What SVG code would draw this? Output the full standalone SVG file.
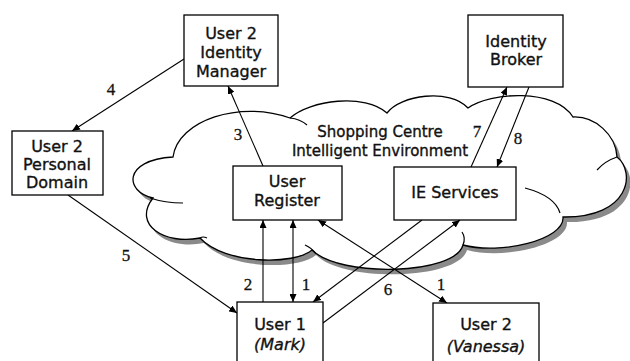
<svg xmlns="http://www.w3.org/2000/svg" width="630" height="361" viewBox="0 0 630 361">
<defs>
<style>
.box{fill:#fff;stroke:#000;stroke-width:1.3}
.t{font-family:"DejaVu Sans",Verdana,sans-serif;font-size:16px;fill:#111;stroke:#111;stroke-width:0.35;text-anchor:middle}
.ct{font-family:"DejaVu Sans",Verdana,sans-serif;font-size:15px;fill:#111;stroke:#111;stroke-width:0.35;text-anchor:middle}
.n{font-family:"Liberation Serif","Times New Roman",serif;font-size:17px;fill:#111;stroke:#111;stroke-width:0.3;text-anchor:middle}
.c{fill:none;stroke:#000;stroke-width:1.1}
.curl{fill:none;stroke:#000;stroke-width:1.2}
</style>
<marker id="ah" viewBox="0 0 8 7" refX="8" refY="3.5" markerWidth="8" markerHeight="7" markerUnits="userSpaceOnUse" orient="auto-start-reverse">
<path d="M0,0 L8,3.5 L0,7 z" fill="#000"/>
</marker>
<path id="cloudPath" d="M173,157 C178,120 240,100 290,118 C310,100 365,93 387,113 C400,95 450,88 468,108 C490,92 555,88 573,117 C595,116 616,135 617,157 C636,172 630,218 563,217 C565,240 500,255 463,245 C455,275 340,278 312,250 C295,265 225,265 200,238 C165,245 132,225 153,198 C125,192 122,160 173,157 Z"/>
</defs>
<rect width="630" height="361" fill="#fff"/>
<g id="cloud">
<use href="#cloudPath" fill="#8a8a8a" transform="translate(4,5)"/>
<use href="#cloudPath" fill="#fff" stroke="#000" stroke-width="1.3"/>
<path class="curl" d="M290,118 Q300,119 307,125"/>
<path class="curl" d="M617,157 Q605,161 597,170"/>
<path class="curl" d="M525,188 Q555,196 560,213"/>
<path class="curl" d="M463,245 Q466,238 462,232"/>
<path class="curl" d="M305,245 Q312,248 316,254"/>
<path class="curl" d="M150,198 Q165,203 183,203"/>
<path class="curl" d="M200,238 Q203,236 207,238"/>
<text class="ct" x="380" y="137">Shopping Centre</text>
<text class="ct" x="380" y="156">Intelligent Environment</text>
</g>
<g id="connectors">
<line class="c" x1="184" y1="59" x2="72" y2="131" marker-end="url(#ah)"/>
<line class="c" x1="263" y1="166" x2="228" y2="86" marker-end="url(#ah)"/>
<line class="c" x1="471" y1="167" x2="507" y2="87" marker-end="url(#ah)"/>
<line class="c" x1="529" y1="87" x2="497" y2="167" marker-end="url(#ah)"/>
<line class="c" x1="68" y1="195" x2="237" y2="313" marker-end="url(#ah)"/>
<line class="c" x1="263" y1="302" x2="263" y2="220" marker-end="url(#ah)"/>
<line class="c" x1="293" y1="220" x2="293" y2="302" marker-start="url(#ah)" marker-end="url(#ah)"/>
<line class="c" x1="318" y1="220" x2="447" y2="303" marker-start="url(#ah)" marker-end="url(#ah)"/>
<line class="c" x1="422" y1="220" x2="313" y2="302" marker-end="url(#ah)"/>
<line class="c" x1="323" y1="323" x2="460" y2="220" marker-end="url(#ah)"/>
<text class="n" x="111" y="95">4</text>
<text class="n" x="238" y="140">3</text>
<text class="n" x="477" y="137">7</text>
<text class="n" x="518" y="144">8</text>
<text class="n" x="126" y="261">5</text>
<text class="n" x="248" y="290">2</text>
<text class="n" x="306" y="290">1</text>
<text class="n" x="388" y="295">6</text>
<text class="n" x="441" y="290">1</text>
</g>
<g id="identity-manager">
<rect class="box" x="184" y="15" width="94" height="71"/>
<text class="t" x="231" y="39">User 2</text>
<text class="t" x="231" y="58">Identity</text>
<text class="t" x="231" y="77">Manager</text>
</g>
<g id="identity-broker">
<rect class="box" x="468" y="15" width="95" height="72"/>
<text class="t" x="516" y="47">Identity</text>
<text class="t" x="516" y="65">Broker</text>
</g>
<g id="personal-domain">
<rect class="box" x="12" y="131" width="91" height="64"/>
<text class="t" x="57" y="152">User 2</text>
<text class="t" x="57" y="170">Personal</text>
<text class="t" x="57" y="188">Domain</text>
</g>
<g id="user-register">
<rect class="box" x="233" y="166" width="109" height="54"/>
<text class="t" x="287" y="187">User</text>
<text class="t" x="287" y="206">Register</text>
</g>
<g id="ie-services">
<rect class="box" x="394" y="167" width="122" height="53"/>
<text class="t" x="455" y="198">IE Services</text>
</g>
<g id="user1">
<rect class="box" x="237" y="302" width="86" height="70"/>
<text class="t" x="280" y="330">User 1</text>
<text class="t" x="280" y="350" font-style="italic">(Mark)</text>
</g>
<g id="user2">
<rect class="box" x="433" y="303" width="106" height="70"/>
<text class="t" x="486" y="330">User 2</text>
<text class="t" x="486" y="352" font-style="italic">(Vanessa)</text>
</g>
</svg>
